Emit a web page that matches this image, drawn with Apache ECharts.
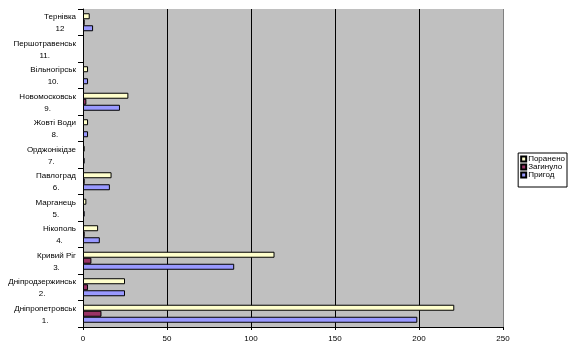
<!DOCTYPE html>
<html><head><meta charset="utf-8">
<script src="https://cdn.jsdelivr.net/npm/echarts@6/dist/echarts.min.js"></script>
<style>html,body{margin:0;padding:0;background:#fff}#c{width:572px;height:356px}</style>
</head><body><div id="c"></div>
<script>
const cityNames = ['Дніпропетровськ','Дніпродзержинськ','Кривий Ріг','Нікополь','Марганець','Павлоград','Орджонікідзе','Жовті Води','Новомосковськ','Вільногірськ','Першотравенськ','Тернівка'];
const cityNums = ['1.','2.','3.','4.','5.','6.','7.','8.','9.','10.','11.','12'];
const accidents = [199, 25, 90, 10, 1, 16, 1, 3, 22, 3, 0, 6];
const killed = [11, 3, 5, 1, 0, 1, 0, 0, 2, 0, 0, 1];
const injured = [221, 25, 114, 9, 2, 17, 1, 3, 27, 3, 0, 4];
const xTicks = [0, 50, 100, 150, 200, 250];
const seriesNames = ['Пригод', 'Загинуло', 'Поранено'];

const categories = cityNames.map((n, i) => n + '|' + cityNums[i]);
const noZero = arr => arr.map(v => (v === 0 ? null : v));
const font = 'Liberation Sans, Arial, sans-serif';
const chart = echarts.init(document.getElementById('c'));
const border = {borderColor: '#000', borderWidth: 1};
chart.setOption({
  animation: false,
  backgroundColor: '#fff',
  textStyle: {fontFamily: font},
  grid: {left: 83, right: 69, top: 9, bottom: 29, show: true, backgroundColor: '#C0C0C0', borderWidth: 0},
  legend: {
    orient: 'vertical', right: 5, top: 153,
    data: ['Поранено', 'Загинуло', 'Пригод'],
    itemWidth: 5, itemHeight: 5, itemGap: 0,
    backgroundColor: '#fff', borderColor: '#000', borderWidth: 1, borderRadius: 0,
    padding: [2, 2, 8, 2],
    textStyle: {fontSize: 8, color: '#000', fontFamily: font, padding: [0, 0, 0, -3]},
    icon: 'rect'
  },
  xAxis: {
    type: 'value', min: xTicks[0], max: xTicks[xTicks.length - 1], interval: 50,
    axisLine: {show: true, lineStyle: {color: '#000'}},
    axisTick: {show: true, length: 3, lineStyle: {color: '#000'}},
    axisLabel: {fontSize: 8, color: '#000', margin: 8, fontFamily: font},
    splitLine: {show: true, lineStyle: {color: ['#000','#000','#000','#000','#000','#808080'], width: 1}}
  },
  yAxis: {
    type: 'category', data: categories,
    axisLine: {show: true, lineStyle: {color: '#000'}},
    axisTick: {show: true, length: 5, lineStyle: {color: '#000'}},
    axisLabel: {
      fontSize: 8, color: '#000', margin: 7, fontFamily: font, lineHeight: 12, padding: [2, 0, 0, 0],
      formatter: v => { const p = v.split('|'); return '{a|' + p[0] + '}\n{b|' + p[1] + '}'; },
      rich: {a: {fontSize: 8, fontFamily: font, lineHeight: 12}, b: {fontSize: 8, fontFamily: font, lineHeight: 12, align: 'center'}}
    }
  },
  series: [
    {name: seriesNames[2], type: 'bar', data: noZero(injured), barGap: '0%', barCategoryGap: '32%', itemStyle: Object.assign({color: '#FFFFCC'}, border)},
    {name: seriesNames[1], type: 'bar', data: noZero(killed), barGap: '0%', barCategoryGap: '32%', itemStyle: Object.assign({color: '#993366'}, border)},
    {name: seriesNames[0], type: 'bar', data: noZero(accidents), barGap: '0%', barCategoryGap: '32%', itemStyle: Object.assign({color: '#9999FF'}, border)}
  ]
});
</script></body></html>
